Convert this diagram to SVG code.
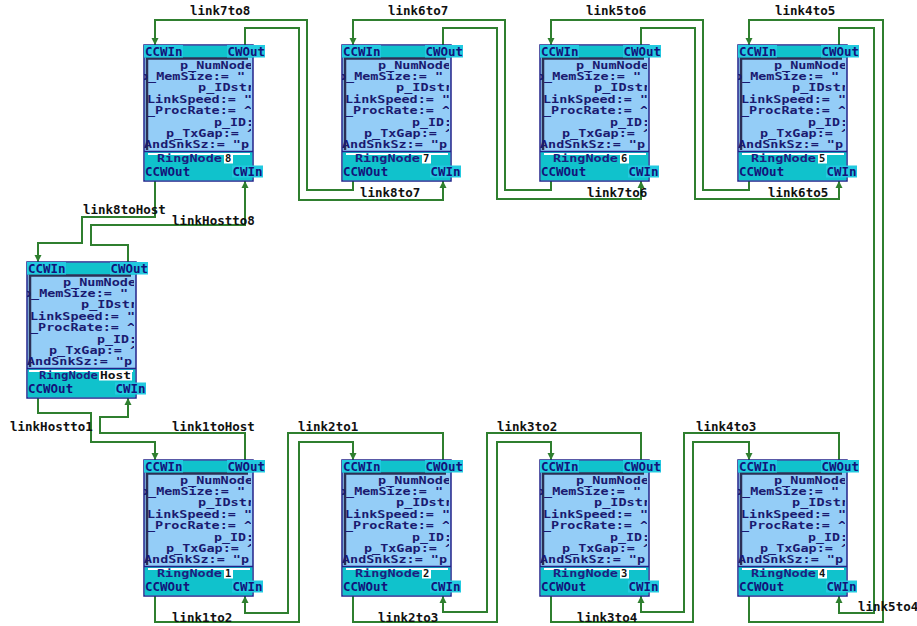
<svg xmlns="http://www.w3.org/2000/svg" width="917" height="626" viewBox="0 0 917 626">
<style>
.body{fill:#94cdf7;stroke:#23238a;stroke-width:1.5}
.band{fill:#10c2cc}
.sep{stroke:#23238a;stroke-width:1.5}
.wline{stroke:#ffffff;stroke-width:2}
.frame{fill:none;stroke:#2b2f55;stroke-width:2.5}
.pbg{fill:#22cae0}
.ptxt{font-family:"DejaVu Sans Mono",monospace;font-weight:bold;font-size:12.5px;fill:#13137a}
.btxt{font-family:"DejaVu Sans Mono",monospace;font-weight:bold;font-size:9.8px;fill:#1a1a70}
.rtxt{font-family:"DejaVu Sans Mono",monospace;font-weight:bold;font-size:10.5px;fill:#1d1d80}
.ntxt{font-family:"DejaVu Sans Mono",monospace;font-weight:bold;font-size:10.5px;fill:#111111}
.wbox{fill:#ffffff}
.conn path{fill:none;stroke:#2f7f2f;stroke-width:2}
.lbl{font-family:"DejaVu Sans Mono",monospace;font-weight:bold;font-size:12.5px;fill:#111111}
</style>
<defs>
<clipPath id="bodyclip" clipPathUnits="userSpaceOnUse"><rect x="0" y="13" width="107" height="93"/></clipPath>
<marker id="arr" markerWidth="8" markerHeight="8" refX="7" refY="4" orient="auto" markerUnits="userSpaceOnUse">
<path d="M0,0.5 L7,4 L0,7.5 Z" fill="#2f7f2f"/>
</marker>
</defs>

<g id="connectors" class="conn">
<path d="M353,181 V190 H307 V20 H155 V45" marker-end="url(#arr)"/>
<path d="M245,45 V28 H299 V200 H443 V181" marker-end="url(#arr)"/>
<path d="M551,181 V190 H505 V20 H353 V45" marker-end="url(#arr)"/>
<path d="M443,45 V28 H497 V199 H641 V181" marker-end="url(#arr)"/>
<path d="M749,181 V190 H703 V20 H551 V45" marker-end="url(#arr)"/>
<path d="M641,45 V28 H695 V199 H839 V181" marker-end="url(#arr)"/>
<path d="M749,596 V622 H883 V20 H749 V45" marker-end="url(#arr)"/>
<path d="M839,45 V28 H874 V613 H839 V596" marker-end="url(#arr)"/>
<path d="M839,460 V433 H684 V612 H641 V596" marker-end="url(#arr)"/>
<path d="M551,596 V622 H693 V442 H749 V460" marker-end="url(#arr)"/>
<path d="M641,460 V433 H487 V612 H443 V596" marker-end="url(#arr)"/>
<path d="M353,596 V622 H497 V442 H551 V460" marker-end="url(#arr)"/>
<path d="M443,460 V433 H288 V613 H245 V596" marker-end="url(#arr)"/>
<path d="M155,596 V622 H299 V442 H353 V460" marker-end="url(#arr)"/>
<path d="M155,181 V217 H82 V243 H38 V262" marker-end="url(#arr)"/>
<path d="M128,262 V245 H91 V225 H245 V181" marker-end="url(#arr)"/>
<path d="M245,460 V433 H100 V417 H128 V398" marker-end="url(#arr)"/>
<path d="M38,398 V413 H91 V442 H155 V460" marker-end="url(#arr)"/>
</g>

<g id="labels">
<text class="lbl" x="190" y="15">link7to8</text>
<text class="lbl" x="388" y="15">link6to7</text>
<text class="lbl" x="586" y="15">link5to6</text>
<text class="lbl" x="775" y="15">link4to5</text>
<text class="lbl" x="360" y="197">link8to7</text>
<text class="lbl" x="587" y="197">link7to6</text>
<text class="lbl" x="768" y="197">link6to5</text>
<text class="lbl" x="83" y="214">link8toHost</text>
<text class="lbl" x="172" y="225">linkHostto8</text>
<text class="lbl" x="10" y="431">linkHostto1</text>
<text class="lbl" x="172" y="431">link1toHost</text>
<text class="lbl" x="298" y="431">link2to1</text>
<text class="lbl" x="497" y="431">link3to2</text>
<text class="lbl" x="696" y="431">link4to3</text>
<text class="lbl" x="172" y="622">link1to2</text>
<text class="lbl" x="378" y="622">link2to3</text>
<text class="lbl" x="577" y="622">link3to4</text>
<text class="lbl" x="858" y="611">link5to4</text>
</g>

<g id="node8" transform="translate(144,45)">
<rect class="body" x="0" y="0" width="109" height="136"/>
<rect class="band" x="0.75" y="0.75" width="107.5" height="12"/>
<rect class="band" x="0.75" y="107" width="107.5" height="28.25"/>
<line class="sep" x1="0" y1="106.5" x2="109" y2="106.5"/>
<line class="wline" x1="4" y1="109" x2="106" y2="109"/>
<path class="frame" d="M3,105 V13.5 H104"/>
<g clip-path="url(#bodyclip)">
<text class="btxt" x="36" y="23.5" textLength="73" lengthAdjust="spacingAndGlyphs">p_NumNode</text>
<text class="btxt" x="-4" y="34.9" textLength="105" lengthAdjust="spacingAndGlyphs">p_MemSize:= "</text>
<text class="btxt" x="54" y="46.3" textLength="57" lengthAdjust="spacingAndGlyphs">p_IDstr</text>
<text class="btxt" x="3" y="57.7" textLength="105" lengthAdjust="spacingAndGlyphs">LinkSpeed:= "</text>
<text class="btxt" x="3" y="69.1" textLength="105" lengthAdjust="spacingAndGlyphs">_ProcRate:= ^</text>
<text class="btxt" x="70" y="80.5" textLength="40" lengthAdjust="spacingAndGlyphs">p_ID:</text>
<text class="btxt" x="22" y="91.9" textLength="89" lengthAdjust="spacingAndGlyphs">p_TxGap:= ^</text>
<text class="btxt" x="0" y="103.3" textLength="105" lengthAdjust="spacingAndGlyphs">AndSnkSz:= "p</text>
</g>
<rect class="pbg" x="0" y="0" width="39" height="12.5"/><text class="ptxt" x="1" y="10.5">CCWIn</text>
<rect class="pbg" x="83" y="0" width="38" height="12.5"/><text class="ptxt" x="83.5" y="10.5">CWOut</text>
<text class="rtxt" x="13" y="116.5" textLength="65" lengthAdjust="spacingAndGlyphs">RingNode</text>
<rect class="wbox" x="80" y="108" width="9" height="10.5"/><text class="ntxt" x="81" y="116.5">8</text>
<text class="ptxt" x="1" y="131">CCWOut</text>
<rect class="pbg" x="88" y="120.5" width="31" height="12"/><text class="ptxt" x="88.5" y="131">CWIn</text>
</g>

<g id="node7" transform="translate(342,45)">
<rect class="body" x="0" y="0" width="109" height="136"/>
<rect class="band" x="0.75" y="0.75" width="107.5" height="12"/>
<rect class="band" x="0.75" y="107" width="107.5" height="28.25"/>
<line class="sep" x1="0" y1="106.5" x2="109" y2="106.5"/>
<line class="wline" x1="4" y1="109" x2="106" y2="109"/>
<path class="frame" d="M3,105 V13.5 H104"/>
<g clip-path="url(#bodyclip)">
<text class="btxt" x="36" y="23.5" textLength="73" lengthAdjust="spacingAndGlyphs">p_NumNode</text>
<text class="btxt" x="-4" y="34.9" textLength="105" lengthAdjust="spacingAndGlyphs">p_MemSize:= "</text>
<text class="btxt" x="54" y="46.3" textLength="57" lengthAdjust="spacingAndGlyphs">p_IDstr</text>
<text class="btxt" x="3" y="57.7" textLength="105" lengthAdjust="spacingAndGlyphs">LinkSpeed:= "</text>
<text class="btxt" x="3" y="69.1" textLength="105" lengthAdjust="spacingAndGlyphs">_ProcRate:= ^</text>
<text class="btxt" x="70" y="80.5" textLength="40" lengthAdjust="spacingAndGlyphs">p_ID:</text>
<text class="btxt" x="22" y="91.9" textLength="89" lengthAdjust="spacingAndGlyphs">p_TxGap:= ^</text>
<text class="btxt" x="0" y="103.3" textLength="105" lengthAdjust="spacingAndGlyphs">AndSnkSz:= "p</text>
</g>
<rect class="pbg" x="0" y="0" width="39" height="12.5"/><text class="ptxt" x="1" y="10.5">CCWIn</text>
<rect class="pbg" x="83" y="0" width="38" height="12.5"/><text class="ptxt" x="83.5" y="10.5">CWOut</text>
<text class="rtxt" x="13" y="116.5" textLength="65" lengthAdjust="spacingAndGlyphs">RingNode</text>
<rect class="wbox" x="80" y="108" width="9" height="10.5"/><text class="ntxt" x="81" y="116.5">7</text>
<text class="ptxt" x="1" y="131">CCWOut</text>
<rect class="pbg" x="88" y="120.5" width="31" height="12"/><text class="ptxt" x="88.5" y="131">CWIn</text>
</g>

<g id="node6" transform="translate(540,45)">
<rect class="body" x="0" y="0" width="109" height="136"/>
<rect class="band" x="0.75" y="0.75" width="107.5" height="12"/>
<rect class="band" x="0.75" y="107" width="107.5" height="28.25"/>
<line class="sep" x1="0" y1="106.5" x2="109" y2="106.5"/>
<line class="wline" x1="4" y1="109" x2="106" y2="109"/>
<path class="frame" d="M3,105 V13.5 H104"/>
<g clip-path="url(#bodyclip)">
<text class="btxt" x="36" y="23.5" textLength="73" lengthAdjust="spacingAndGlyphs">p_NumNode</text>
<text class="btxt" x="-4" y="34.9" textLength="105" lengthAdjust="spacingAndGlyphs">p_MemSize:= "</text>
<text class="btxt" x="54" y="46.3" textLength="57" lengthAdjust="spacingAndGlyphs">p_IDstr</text>
<text class="btxt" x="3" y="57.7" textLength="105" lengthAdjust="spacingAndGlyphs">LinkSpeed:= "</text>
<text class="btxt" x="3" y="69.1" textLength="105" lengthAdjust="spacingAndGlyphs">_ProcRate:= ^</text>
<text class="btxt" x="70" y="80.5" textLength="40" lengthAdjust="spacingAndGlyphs">p_ID:</text>
<text class="btxt" x="22" y="91.9" textLength="89" lengthAdjust="spacingAndGlyphs">p_TxGap:= ^</text>
<text class="btxt" x="0" y="103.3" textLength="105" lengthAdjust="spacingAndGlyphs">AndSnkSz:= "p</text>
</g>
<rect class="pbg" x="0" y="0" width="39" height="12.5"/><text class="ptxt" x="1" y="10.5">CCWIn</text>
<rect class="pbg" x="83" y="0" width="38" height="12.5"/><text class="ptxt" x="83.5" y="10.5">CWOut</text>
<text class="rtxt" x="13" y="116.5" textLength="65" lengthAdjust="spacingAndGlyphs">RingNode</text>
<rect class="wbox" x="80" y="108" width="9" height="10.5"/><text class="ntxt" x="81" y="116.5">6</text>
<text class="ptxt" x="1" y="131">CCWOut</text>
<rect class="pbg" x="88" y="120.5" width="31" height="12"/><text class="ptxt" x="88.5" y="131">CWIn</text>
</g>

<g id="node5" transform="translate(738,45)">
<rect class="body" x="0" y="0" width="109" height="136"/>
<rect class="band" x="0.75" y="0.75" width="107.5" height="12"/>
<rect class="band" x="0.75" y="107" width="107.5" height="28.25"/>
<line class="sep" x1="0" y1="106.5" x2="109" y2="106.5"/>
<line class="wline" x1="4" y1="109" x2="106" y2="109"/>
<path class="frame" d="M3,105 V13.5 H104"/>
<g clip-path="url(#bodyclip)">
<text class="btxt" x="36" y="23.5" textLength="73" lengthAdjust="spacingAndGlyphs">p_NumNode</text>
<text class="btxt" x="-4" y="34.9" textLength="105" lengthAdjust="spacingAndGlyphs">p_MemSize:= "</text>
<text class="btxt" x="54" y="46.3" textLength="57" lengthAdjust="spacingAndGlyphs">p_IDstr</text>
<text class="btxt" x="3" y="57.7" textLength="105" lengthAdjust="spacingAndGlyphs">LinkSpeed:= "</text>
<text class="btxt" x="3" y="69.1" textLength="105" lengthAdjust="spacingAndGlyphs">_ProcRate:= ^</text>
<text class="btxt" x="70" y="80.5" textLength="40" lengthAdjust="spacingAndGlyphs">p_ID:</text>
<text class="btxt" x="22" y="91.9" textLength="89" lengthAdjust="spacingAndGlyphs">p_TxGap:= ^</text>
<text class="btxt" x="0" y="103.3" textLength="105" lengthAdjust="spacingAndGlyphs">AndSnkSz:= "p</text>
</g>
<rect class="pbg" x="0" y="0" width="39" height="12.5"/><text class="ptxt" x="1" y="10.5">CCWIn</text>
<rect class="pbg" x="83" y="0" width="38" height="12.5"/><text class="ptxt" x="83.5" y="10.5">CWOut</text>
<text class="rtxt" x="13" y="116.5" textLength="65" lengthAdjust="spacingAndGlyphs">RingNode</text>
<rect class="wbox" x="80" y="108" width="9" height="10.5"/><text class="ntxt" x="81" y="116.5">5</text>
<text class="ptxt" x="1" y="131">CCWOut</text>
<rect class="pbg" x="88" y="120.5" width="31" height="12"/><text class="ptxt" x="88.5" y="131">CWIn</text>
</g>

<g id="nodeHost" transform="translate(27,262)">
<rect class="body" x="0" y="0" width="109" height="136"/>
<rect class="band" x="0.75" y="0.75" width="107.5" height="12"/>
<rect class="band" x="0.75" y="107" width="107.5" height="28.25"/>
<line class="sep" x1="0" y1="106.5" x2="109" y2="106.5"/>
<line class="wline" x1="2" y1="109" x2="106" y2="109"/>
<path class="frame" d="M3,105 V13.5 H104"/>
<g clip-path="url(#bodyclip)">
<text class="btxt" x="36" y="23.5" textLength="73" lengthAdjust="spacingAndGlyphs">p_NumNode</text>
<text class="btxt" x="-4" y="34.9" textLength="105" lengthAdjust="spacingAndGlyphs">p_MemSize:= "</text>
<text class="btxt" x="54" y="46.3" textLength="57" lengthAdjust="spacingAndGlyphs">p_IDstr</text>
<text class="btxt" x="3" y="57.7" textLength="105" lengthAdjust="spacingAndGlyphs">LinkSpeed:= "</text>
<text class="btxt" x="3" y="69.1" textLength="105" lengthAdjust="spacingAndGlyphs">_ProcRate:= ^</text>
<text class="btxt" x="70" y="80.5" textLength="40" lengthAdjust="spacingAndGlyphs">p_ID:</text>
<text class="btxt" x="22" y="91.9" textLength="89" lengthAdjust="spacingAndGlyphs">p_TxGap:= ^</text>
<text class="btxt" x="0" y="103.3" textLength="105" lengthAdjust="spacingAndGlyphs">AndSnkSz:= "p</text>
</g>
<rect class="pbg" x="0" y="0" width="39" height="12.5"/><text class="ptxt" x="1" y="10.5">CCWIn</text>
<rect class="pbg" x="83" y="0" width="38" height="12.5"/><text class="ptxt" x="83.5" y="10.5">CWOut</text>
<text class="rtxt" x="12" y="116.5" textLength="59" lengthAdjust="spacingAndGlyphs">RingNode</text>
<rect class="wbox" x="72" y="108" width="33" height="10.5"/><text class="ntxt" x="73" y="116.5" textLength="31" lengthAdjust="spacingAndGlyphs">Host</text>
<text class="ptxt" x="1" y="131">CCWOut</text>
<rect class="pbg" x="88" y="120.5" width="31" height="12"/><text class="ptxt" x="88.5" y="131">CWIn</text>
</g>

<g id="node1" transform="translate(144,460)">
<rect class="body" x="0" y="0" width="109" height="136"/>
<rect class="band" x="0.75" y="0.75" width="107.5" height="12"/>
<rect class="band" x="0.75" y="107" width="107.5" height="28.25"/>
<line class="sep" x1="0" y1="106.5" x2="109" y2="106.5"/>
<line class="wline" x1="4" y1="109" x2="106" y2="109"/>
<path class="frame" d="M3,105 V13.5 H104"/>
<g clip-path="url(#bodyclip)">
<text class="btxt" x="36" y="23.5" textLength="73" lengthAdjust="spacingAndGlyphs">p_NumNode</text>
<text class="btxt" x="-4" y="34.9" textLength="105" lengthAdjust="spacingAndGlyphs">p_MemSize:= "</text>
<text class="btxt" x="54" y="46.3" textLength="57" lengthAdjust="spacingAndGlyphs">p_IDstr</text>
<text class="btxt" x="3" y="57.7" textLength="105" lengthAdjust="spacingAndGlyphs">LinkSpeed:= "</text>
<text class="btxt" x="3" y="69.1" textLength="105" lengthAdjust="spacingAndGlyphs">_ProcRate:= ^</text>
<text class="btxt" x="70" y="80.5" textLength="40" lengthAdjust="spacingAndGlyphs">p_ID:</text>
<text class="btxt" x="22" y="91.9" textLength="89" lengthAdjust="spacingAndGlyphs">p_TxGap:= ^</text>
<text class="btxt" x="0" y="103.3" textLength="105" lengthAdjust="spacingAndGlyphs">AndSnkSz:= "p</text>
</g>
<rect class="pbg" x="0" y="0" width="39" height="12.5"/><text class="ptxt" x="1" y="10.5">CCWIn</text>
<rect class="pbg" x="83" y="0" width="38" height="12.5"/><text class="ptxt" x="83.5" y="10.5">CWOut</text>
<text class="rtxt" x="13" y="116.5" textLength="65" lengthAdjust="spacingAndGlyphs">RingNode</text>
<rect class="wbox" x="80" y="108" width="9" height="10.5"/><text class="ntxt" x="81" y="116.5">1</text>
<text class="ptxt" x="1" y="131">CCWOut</text>
<rect class="pbg" x="88" y="120.5" width="31" height="12"/><text class="ptxt" x="88.5" y="131">CWIn</text>
</g>

<g id="node2" transform="translate(342,460)">
<rect class="body" x="0" y="0" width="109" height="136"/>
<rect class="band" x="0.75" y="0.75" width="107.5" height="12"/>
<rect class="band" x="0.75" y="107" width="107.5" height="28.25"/>
<line class="sep" x1="0" y1="106.5" x2="109" y2="106.5"/>
<line class="wline" x1="4" y1="109" x2="106" y2="109"/>
<path class="frame" d="M3,105 V13.5 H104"/>
<g clip-path="url(#bodyclip)">
<text class="btxt" x="36" y="23.5" textLength="73" lengthAdjust="spacingAndGlyphs">p_NumNode</text>
<text class="btxt" x="-4" y="34.9" textLength="105" lengthAdjust="spacingAndGlyphs">p_MemSize:= "</text>
<text class="btxt" x="54" y="46.3" textLength="57" lengthAdjust="spacingAndGlyphs">p_IDstr</text>
<text class="btxt" x="3" y="57.7" textLength="105" lengthAdjust="spacingAndGlyphs">LinkSpeed:= "</text>
<text class="btxt" x="3" y="69.1" textLength="105" lengthAdjust="spacingAndGlyphs">_ProcRate:= ^</text>
<text class="btxt" x="70" y="80.5" textLength="40" lengthAdjust="spacingAndGlyphs">p_ID:</text>
<text class="btxt" x="22" y="91.9" textLength="89" lengthAdjust="spacingAndGlyphs">p_TxGap:= ^</text>
<text class="btxt" x="0" y="103.3" textLength="105" lengthAdjust="spacingAndGlyphs">AndSnkSz:= "p</text>
</g>
<rect class="pbg" x="0" y="0" width="39" height="12.5"/><text class="ptxt" x="1" y="10.5">CCWIn</text>
<rect class="pbg" x="83" y="0" width="38" height="12.5"/><text class="ptxt" x="83.5" y="10.5">CWOut</text>
<text class="rtxt" x="13" y="116.5" textLength="65" lengthAdjust="spacingAndGlyphs">RingNode</text>
<rect class="wbox" x="80" y="108" width="9" height="10.5"/><text class="ntxt" x="81" y="116.5">2</text>
<text class="ptxt" x="1" y="131">CCWOut</text>
<rect class="pbg" x="88" y="120.5" width="31" height="12"/><text class="ptxt" x="88.5" y="131">CWIn</text>
</g>

<g id="node3" transform="translate(540,460)">
<rect class="body" x="0" y="0" width="109" height="136"/>
<rect class="band" x="0.75" y="0.75" width="107.5" height="12"/>
<rect class="band" x="0.75" y="107" width="107.5" height="28.25"/>
<line class="sep" x1="0" y1="106.5" x2="109" y2="106.5"/>
<line class="wline" x1="4" y1="109" x2="106" y2="109"/>
<path class="frame" d="M3,105 V13.5 H104"/>
<g clip-path="url(#bodyclip)">
<text class="btxt" x="36" y="23.5" textLength="73" lengthAdjust="spacingAndGlyphs">p_NumNode</text>
<text class="btxt" x="-4" y="34.9" textLength="105" lengthAdjust="spacingAndGlyphs">p_MemSize:= "</text>
<text class="btxt" x="54" y="46.3" textLength="57" lengthAdjust="spacingAndGlyphs">p_IDstr</text>
<text class="btxt" x="3" y="57.7" textLength="105" lengthAdjust="spacingAndGlyphs">LinkSpeed:= "</text>
<text class="btxt" x="3" y="69.1" textLength="105" lengthAdjust="spacingAndGlyphs">_ProcRate:= ^</text>
<text class="btxt" x="70" y="80.5" textLength="40" lengthAdjust="spacingAndGlyphs">p_ID:</text>
<text class="btxt" x="22" y="91.9" textLength="89" lengthAdjust="spacingAndGlyphs">p_TxGap:= ^</text>
<text class="btxt" x="0" y="103.3" textLength="105" lengthAdjust="spacingAndGlyphs">AndSnkSz:= "p</text>
</g>
<rect class="pbg" x="0" y="0" width="39" height="12.5"/><text class="ptxt" x="1" y="10.5">CCWIn</text>
<rect class="pbg" x="83" y="0" width="38" height="12.5"/><text class="ptxt" x="83.5" y="10.5">CWOut</text>
<text class="rtxt" x="13" y="116.5" textLength="65" lengthAdjust="spacingAndGlyphs">RingNode</text>
<rect class="wbox" x="80" y="108" width="9" height="10.5"/><text class="ntxt" x="81" y="116.5">3</text>
<text class="ptxt" x="1" y="131">CCWOut</text>
<rect class="pbg" x="88" y="120.5" width="31" height="12"/><text class="ptxt" x="88.5" y="131">CWIn</text>
</g>

<g id="node4" transform="translate(738,460)">
<rect class="body" x="0" y="0" width="109" height="136"/>
<rect class="band" x="0.75" y="0.75" width="107.5" height="12"/>
<rect class="band" x="0.75" y="107" width="107.5" height="28.25"/>
<line class="sep" x1="0" y1="106.5" x2="109" y2="106.5"/>
<line class="wline" x1="4" y1="109" x2="106" y2="109"/>
<path class="frame" d="M3,105 V13.5 H104"/>
<g clip-path="url(#bodyclip)">
<text class="btxt" x="36" y="23.5" textLength="73" lengthAdjust="spacingAndGlyphs">p_NumNode</text>
<text class="btxt" x="-4" y="34.9" textLength="105" lengthAdjust="spacingAndGlyphs">p_MemSize:= "</text>
<text class="btxt" x="54" y="46.3" textLength="57" lengthAdjust="spacingAndGlyphs">p_IDstr</text>
<text class="btxt" x="3" y="57.7" textLength="105" lengthAdjust="spacingAndGlyphs">LinkSpeed:= "</text>
<text class="btxt" x="3" y="69.1" textLength="105" lengthAdjust="spacingAndGlyphs">_ProcRate:= ^</text>
<text class="btxt" x="70" y="80.5" textLength="40" lengthAdjust="spacingAndGlyphs">p_ID:</text>
<text class="btxt" x="22" y="91.9" textLength="89" lengthAdjust="spacingAndGlyphs">p_TxGap:= ^</text>
<text class="btxt" x="0" y="103.3" textLength="105" lengthAdjust="spacingAndGlyphs">AndSnkSz:= "p</text>
</g>
<rect class="pbg" x="0" y="0" width="39" height="12.5"/><text class="ptxt" x="1" y="10.5">CCWIn</text>
<rect class="pbg" x="83" y="0" width="38" height="12.5"/><text class="ptxt" x="83.5" y="10.5">CWOut</text>
<text class="rtxt" x="13" y="116.5" textLength="65" lengthAdjust="spacingAndGlyphs">RingNode</text>
<rect class="wbox" x="80" y="108" width="9" height="10.5"/><text class="ntxt" x="81" y="116.5">4</text>
<text class="ptxt" x="1" y="131">CCWOut</text>
<rect class="pbg" x="88" y="120.5" width="31" height="12"/><text class="ptxt" x="88.5" y="131">CWIn</text>
</g>
</svg>
